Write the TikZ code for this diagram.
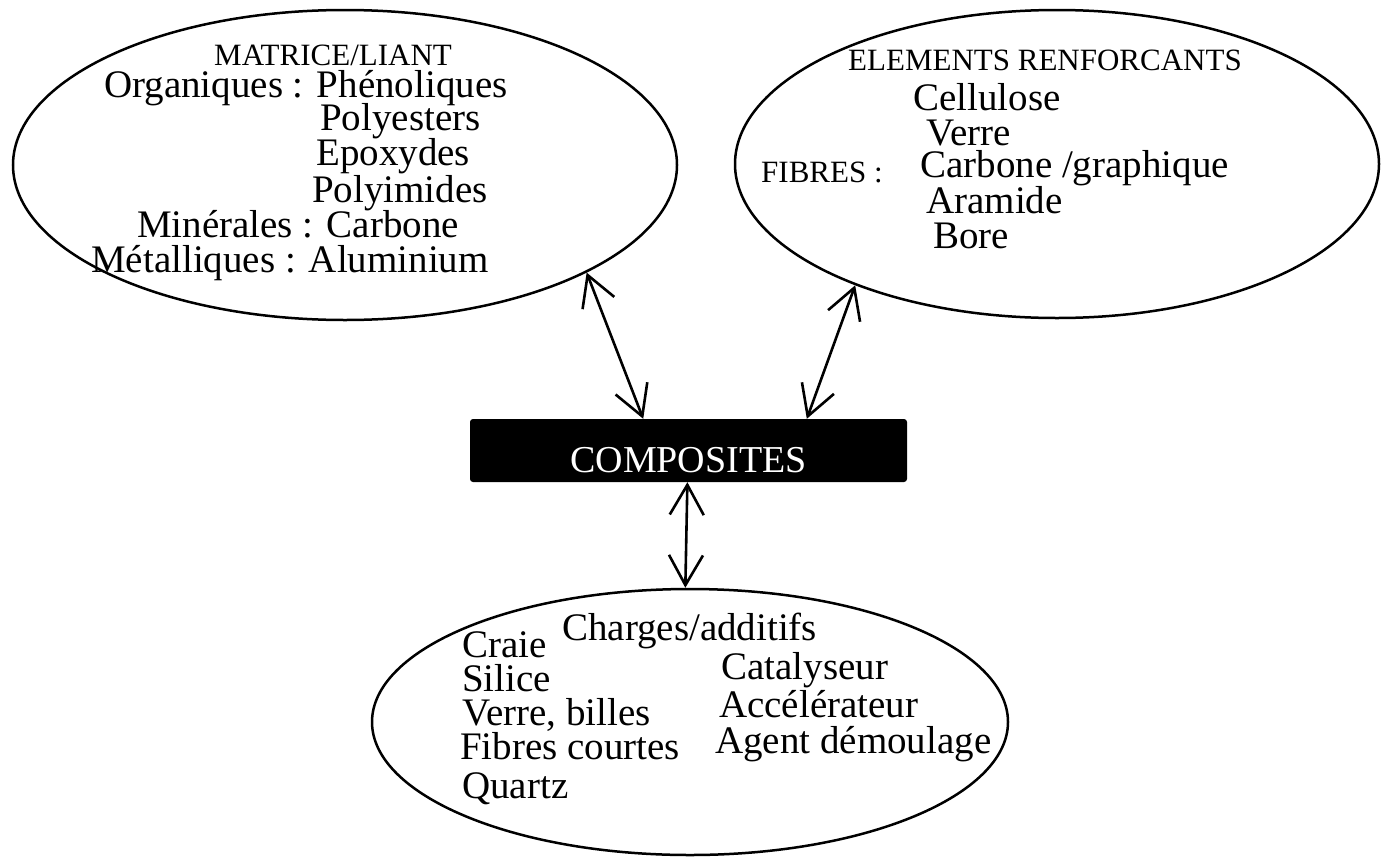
\documentclass[tikz,border=0pt]{standalone}
\usepackage{fontspec}
\setmainfont{Liberation Serif}
\usetikzlibrary{shapes.geometric,arrows.meta}
\begin{document}
\begin{tikzpicture}[x=1pt,y=-1pt,
  oval/.style={ellipse, draw, line width=2.5pt, inner sep=0pt},
  tx/.style={anchor=base west, inner sep=0pt, text height=24pt, text depth=6pt,
    font=\fontsize{39}{39}\selectfont},
  hd/.style={anchor=base west, inner sep=0pt, text height=20pt, text depth=4pt,
    font=\fontsize{31}{31}\selectfont},
  tipb/.tip={Straight Barb[length=30pt,width=34pt]},
  link/.style={line width=2.6pt, tipb-tipb},
  blackbox/.style={fill=black, draw=none, rounded corners=3pt, inner sep=0pt,
    minimum width=437pt, minimum height=63pt, text=white,
    text height=43pt, text depth=0pt, font=\fontsize{38}{38}\selectfont}
]
\useasboundingbox (0,0) rectangle (1382,857);
\fill[white] (0,0) rectangle (1382,857);

% ellipses
\node[oval, minimum width=664pt, minimum height=310pt] (mat) at (345,165) {};
\node[oval, minimum width=644pt, minimum height=308pt] (ren) at (1057,164) {};
\node[oval, minimum width=636pt, minimum height=266pt] (cha) at (690,722) {};

% central box
\node[blackbox] (comp) at (688.5,450.5) {COMPOSITES};

% left ellipse texts
\node[hd] (m0) at (214,65) {MATRICE/LIANT};
\node[tx] (m1) at (104,97) {Organiques : Phénoliques};
\node[tx] (m2) at (320,130) {Polyesters};
\node[tx] (m3) at (316,165) {Epoxydes};
\node[tx] (m4) at (312,202) {Polyimides};
\node[tx] (m5) at (137,237) {Minérales : Carbone};
\node[tx] (m6) at (91,272) {Métalliques : Aluminium};

% right ellipse texts
\node[hd] (r0) at (848,70) {ELEMENTS RENFORCANTS};
\node[tx] (r1) at (913,110) {Cellulose};
\node[tx] (r2) at (926,145) {Verre};
\node[hd] (rf) at (761,182) {FIBRES :};
\node[tx] (r3) at (920,177) {Carbone /graphique};
\node[tx] (r4) at (926,213) {Aramide};
\node[tx] (r5) at (933,248) {Bore};

% bottom ellipse texts
\node[tx] (c0) at (562,640) {Charges/additifs};
\node[tx] (c1) at (462,657) {Craie};
\node[tx] (c2) at (462,691) {Silice};
\node[tx] (c3) at (462,725) {Verre, billes};
\node[tx] (c4) at (460,759) {Fibres courtes};
\node[tx] (c5) at (462,798) {Quartz};
\node[tx] (c6) at (721,679) {Catalyseur};
\node[tx] (c7) at (719,717) {Accélérateur};
\node[tx] (c8) at (715,753) {Agent démoulage};

% connectors
\draw[link] (mat.-24.7) -- (comp.145.9);
\draw[link] (ren.-149.5) -- (comp.15.1);
\draw[link] (comp.-92.7) -- (cha.92.6);
\end{tikzpicture}
\end{document}
